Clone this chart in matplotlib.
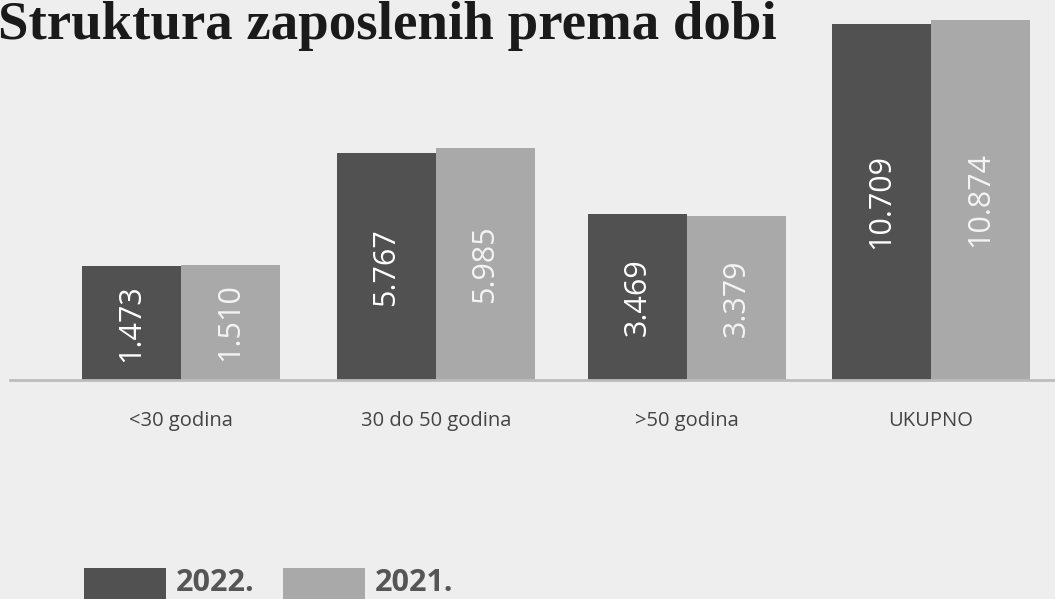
import numpy as np
import matplotlib
matplotlib.use('Agg')
import matplotlib.pyplot as plt
from matplotlib.patches import Rectangle

# data
categories = ['<30 godina', '30 do 50 godina', '>50 godina', 'UKUPNO']
vals_2022 = [1473, 5767, 3469, 10709]
vals_2021 = [1510, 5985, 3379, 10874]
labels_2022 = ['1.473', '5.767', '3.469', '10.709']
labels_2021 = ['1.510', '5.985', '3.379', '10.874']
series_names = ['2022.', '2021.']

dark = '#515151'
light = '#a9a9a9'
bg = '#eeeeee'

# the original bars are not drawn to scale from zero, so the baseline sits below zero
y_base = -2880
y_top = 11624

fig = plt.figure(figsize=(10.55, 5.99), dpi=100, facecolor=bg)
ax = fig.add_axes([10 / 1055, 219 / 599, 1045 / 1055, 380 / 599])
ax.set_facecolor('none')

x = np.array([0, 1.018, 2.02, 2.995])
w = 0.395
b1 = ax.bar(x - w / 2, np.array(vals_2022) - y_base, bottom=y_base, width=w, color=dark)
b2 = ax.bar(x + w / 2, np.array(vals_2021) - y_base, bottom=y_base, width=w, color=light)

for i in range(len(categories)):
    ax.text(x[i] - w / 2, (vals_2022[i] + y_base) / 2, labels_2022[i], rotation=90,
            ha='center', va='center', color='white', fontsize=22,
            family='Open Sans')
    ax.text(x[i] + w / 2, (vals_2021[i] + y_base) / 2, labels_2021[i], rotation=90,
            ha='center', va='center', color='#f4f4f4', fontsize=22,
            family='Open Sans')

ax.set_xlim(-0.683, 3.49)
ax.set_ylim(y_base, y_top)
ax.set_xticks(x)
ax.set_xticklabels(categories, family='Open Sans', fontsize=14.5, color='#444444')
ax.tick_params(axis='x', length=0, pad=22)
ax.set_yticks([])
for s in ['top', 'left', 'right']:
    ax.spines[s].set_visible(False)
ax.spines['bottom'].set_color('#bcbcbc')
ax.spines['bottom'].set_linewidth(2)

fig.text(-0.002, 0.935, 'Struktura zaposlenih prema dobi', family='Liberation Serif',
         fontweight='bold', fontsize=39.5, color='#1a1a1a', ha='left', va='baseline')

# legend at the bottom, sitting on the lower edge like the original
for k, (col, name) in enumerate(zip([dark, light], series_names)):
    x0 = (84 + 199 * k) / 1055
    fig.add_artist(Rectangle((x0, -0.01), 82 / 1055, 37 / 599, transform=fig.transFigure,
                             facecolor=col, edgecolor='none'))
    fig.text(x0 + 92 / 1055, 1 / 599, name, family='Open Sans', fontweight='bold',
             fontsize=22, color='#555555', ha='left', va='bottom')

fig.savefig('out.png', dpi=100, facecolor=bg)
